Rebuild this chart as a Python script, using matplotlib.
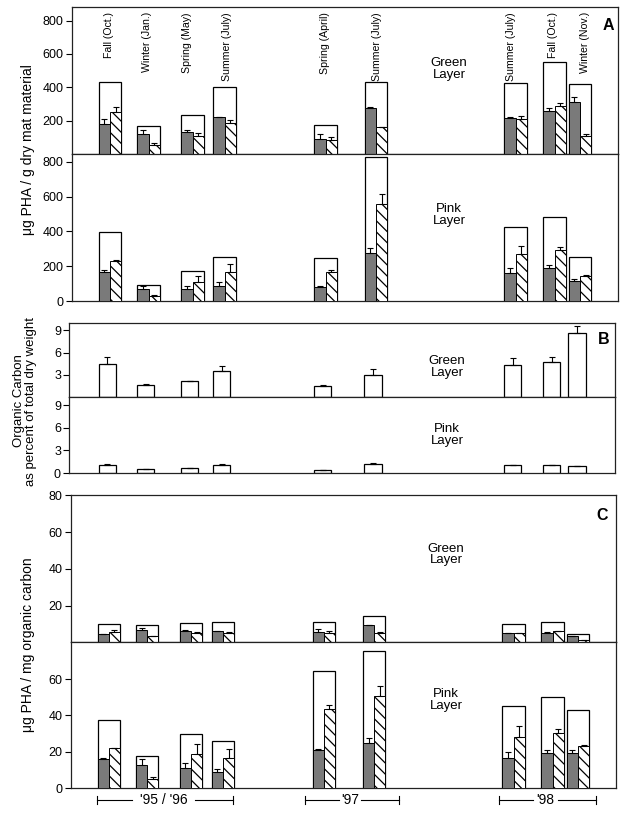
import matplotlib
matplotlib.use('Agg')
import matplotlib.pyplot as plt
import numpy as np
from matplotlib.transforms import blended_transform_factory

plt.rcParams['font.family'] = ['Liberation Sans', 'DejaVu Sans']
plt.rcParams['hatch.linewidth'] = 0.9

# ---------------- data ----------------
samples = ["Fall (Oct.)", "Winter (Jan.)", "Spring (May)", "Summer (July)",
           "Spring (April)", "Summer (July)",
           "Summer (July)", "Fall (Oct.)", "Winter (Nov.)"]
years = ["'95 / '96", "'97", "'98"]

# Panel A: ug PHA / g dry mat material
a_green_total = [434, 170, 236, 402, 176, 432, 424, 550, 418]
a_green_gray = [180, 122, 130, 220, 90, 276, 216, 260, 310]
a_green_gray_err = [28, 20, 16, 4, 30, 4, 8, 16, 30]
a_green_hatch = [254, 52, 108, 184, 86, 160, 208, 286, 106]
a_green_hatch_err = [30, 12, 20, 18, 18, 0, 18, 18, 12]

a_pink_total = [395, 90, 171, 253, 247, 830, 427, 483, 255]
a_pink_gray = [165, 67, 67, 88, 82, 274, 159, 192, 115]
a_pink_gray_err = [13, 19, 19, 19, 3, 29, 29, 13, 11]
a_pink_hatch = [230, 29, 107, 168, 168, 558, 270, 293, 144]
a_pink_hatch_err = [4, 5, 37, 43, 10, 57, 48, 19, 6]

# Panel B: organic carbon, % of total dry weight
b_green = [4.43, 1.70, 2.15, 3.58, 1.52, 3.00, 4.30, 4.79, 8.60]
b_green_err = [0.94, 0.05, 0.09, 0.58, 0.09, 0.76, 1.03, 0.58, 0.94]
b_pink = [1.12, 0.54, 0.63, 1.07, 0.40, 1.16, 1.03, 1.03, 0.90]
b_pink_err = [0.09, 0.02, 0.09, 0.09, 0.02, 0.14, 0.04, 0.02, 0.04]

# Panel C: ug PHA / mg organic carbon
c_green_total = [9.8, 9.5, 10.7, 11.1, 10.9, 14.4, 9.8, 11.3, 4.5]
c_green_gray = [4.4, 6.7, 6.2, 6.2, 5.6, 9.3, 5.1, 5.3, 3.5]
c_green_gray_err = [0.3, 1.1, 0.3, 0.2, 1.9, 0.2, 0.2, 0.3, 0.1]
c_green_hatch = [5.8, 3.3, 5.1, 5.3, 5.1, 5.3, 4.9, 6.0, 1.1]
c_green_hatch_err = [0.7, 0.2, 0.4, 0.3, 1.1, 0.1, 0.4, 0.2, 0.2]

c_pink_total = [37.6, 17.6, 29.7, 25.9, 64.2, 75.2, 45.3, 50.3, 43.1]
c_pink_gray = [16.0, 12.7, 11.0, 8.8, 21.1, 25.0, 16.5, 19.6, 19.3]
c_pink_gray_err = [0.5, 3.3, 3.1, 1.7, 0.7, 2.5, 3.3, 1.3, 1.8]
c_pink_hatch = [22.0, 5.0, 18.7, 16.9, 43.5, 50.5, 28.4, 30.3, 23.1]
c_pink_hatch_err = [0.2, 1.1, 5.5, 4.6, 2.5, 5.5, 5.6, 2.2, 0.9]

# ---------------- layout ----------------
slot_x = [38, 76.5, 120.5, 152.5, 253.5, 304, 443.5, 482.5, 508]
label_dx = [-1, -2, -5, 3, -1, 1, -4, -1, 5]
year_spans = [(26.6, 61.6, 124.6, 162.6), (235, 269, 291, 328.6), (428.6, 462.6, 487.6, 526)]
year_text_x = [93.3, 280, 475.5]
XMAX = 546
BOXW = 22.3
BW = 17.3
GRAY = '#7a7a7a'
LW = 0.9

W, H = 627, 817
fig = plt.figure(figsize=(W / 100, H / 100), dpi=100)


def add_ax(left, right, top, bottom):
    return fig.add_axes([left / W, 1 - bottom / H, (right - left) / W, (bottom - top) / H])


def style(ax, ylim, ticks):
    ax.set_xlim(0, XMAX)
    ax.set_ylim(*ylim)
    ax.set_xticks([])
    ax.set_yticks(ticks)
    ax.set_yticklabels([str(t) for t in ticks])
    ax.tick_params(axis='y', direction='out', length=4, width=0.8, labelsize=9, pad=2)
    for s in ax.spines.values():
        s.set_linewidth(LW)
        s.set_color('#222222')


def grouped(ax, total, gray, gerr, hatch, herr):
    x = np.array(slot_x)
    ax.bar(x, total, width=BOXW, facecolor='white', edgecolor='black', linewidth=LW, zorder=2)
    xg = x - BOXW / 4
    xh = x + BOXW / 4
    ax.bar(xg, gray, width=BOXW / 2, facecolor=GRAY, edgecolor='black', linewidth=0.7, zorder=3)
    ax.bar(xh, hatch, width=BOXW / 2, facecolor='white', edgecolor='black', hatch='\\\\\\',
           linewidth=0.7, zorder=3)
    z = np.zeros(len(x))
    ax.errorbar(xg, gray, yerr=[z, gerr], fmt='none', ecolor='black', elinewidth=0.8,
                capsize=2, capthick=0.8, zorder=4)
    ax.errorbar(xh, hatch, yerr=[z, herr], fmt='none', ecolor='black', elinewidth=0.8,
                capsize=2, capthick=0.8, zorder=4)


def single(ax, vals, err):
    x = np.array(slot_x)
    ax.bar(x, vals, width=BW, facecolor='white', edgecolor='black', linewidth=LW, zorder=2)
    z = np.zeros(len(x))
    ax.errorbar(x, vals, yerr=[z, err], fmt='none', ecolor='black', elinewidth=0.8,
                capsize=2, capthick=0.8, zorder=4)


def layer_label(x, y, name):
    fig.text(x / W, 1 - y / H, name + "\nLayer", ha='center', va='center',
             fontsize=9.5, linespacing=1.0)


# Panel A
axAg = add_ax(72, 618, 7, 154)
axAp = add_ax(72, 618, 154, 301)
style(axAg, (0, 882), [200, 400, 600, 800])
style(axAp, (0, 845), [0, 200, 400, 600, 800])
grouped(axAg, a_green_total, a_green_gray, a_green_gray_err, a_green_hatch, a_green_hatch_err)
grouped(axAp, a_pink_total, a_pink_gray, a_pink_gray_err, a_pink_hatch, a_pink_hatch_err)
tr = blended_transform_factory(axAg.transData, axAg.transAxes)
for xs, dx, lab in zip(slot_x, label_dx, samples):
    axAg.text(xs + dx, 0.965, lab, rotation=90, ha='center', va='top', fontsize=7.6,
              transform=tr)
layer_label(449, 69, "Green")
layer_label(449, 215, "Pink")
fig.text(608 / W, 1 - 25 / H, "A", ha='center', va='center', fontsize=11.5, fontweight='bold')
fig.text(28 / W, 1 - 150 / H, "μg PHA / g dry mat material", rotation=90,
         ha='center', va='center', fontsize=10)

# Panel B
axBg = add_ax(69.3, 615, 322.7, 397.3)
axBp = add_ax(69.3, 615, 397.3, 473)
style(axBg, (0, 10), [3, 6, 9])
style(axBp, (0, 10.05), [0, 3, 6, 9])
single(axBg, b_green, b_green_err)
single(axBp, b_pink, b_pink_err)
layer_label(447, 367, "Green")
layer_label(447, 435, "Pink")
fig.text(604 / W, 1 - 339 / H, "B", ha='center', va='center', fontsize=11.5, fontweight='bold')
fig.text(25 / W, 1 - 401 / H, "Organic Carbon\nas percent of total dry weight", rotation=90,
         ha='center', va='center', fontsize=9.5, linespacing=1.0, multialignment='center')

# Panel C
axCg = add_ax(70.7, 616, 495.3, 642.3)
axCp = add_ax(70.7, 616, 642.3, 788.3)
style(axCg, (0, 80), [20, 40, 60, 80])
style(axCp, (0, 80.2), [0, 20, 40, 60])
grouped(axCg, c_green_total, c_green_gray, c_green_gray_err, c_green_hatch, c_green_hatch_err)
grouped(axCp, c_pink_total, c_pink_gray, c_pink_gray_err, c_pink_hatch, c_pink_hatch_err)
layer_label(446, 554.5, "Green")
layer_label(446, 700, "Pink")
fig.text(602 / W, 1 - 516 / H, "C", ha='center', va='center', fontsize=11.5, fontweight='bold')
fig.text(28 / W, 1 - 645 / H, "μg PHA / mg organic carbon", rotation=90,
         ha='center', va='center', fontsize=10)

# Year brackets under panel C
trC = blended_transform_factory(axCp.transData, axCp.transAxes)
yb = -(800 - 788.3) / 146.0
tk = 0.025
for (l0, l1, r0, r1), tx, yr in zip(year_spans, year_text_x, years):
    axCp.plot([l0, l1], [yb, yb], color='black', lw=0.8, transform=trC, clip_on=False)
    axCp.plot([r0, r1], [yb, yb], color='black', lw=0.8, transform=trC, clip_on=False)
    axCp.plot([l0, l0], [yb - tk, yb + tk], color='black', lw=0.8, transform=trC, clip_on=False)
    axCp.plot([r1, r1], [yb - tk, yb + tk], color='black', lw=0.8, transform=trC, clip_on=False)
    axCp.text(tx, yb, yr, ha='center', va='center', fontsize=10, transform=trC)

fig.savefig('out.png', dpi=100)
